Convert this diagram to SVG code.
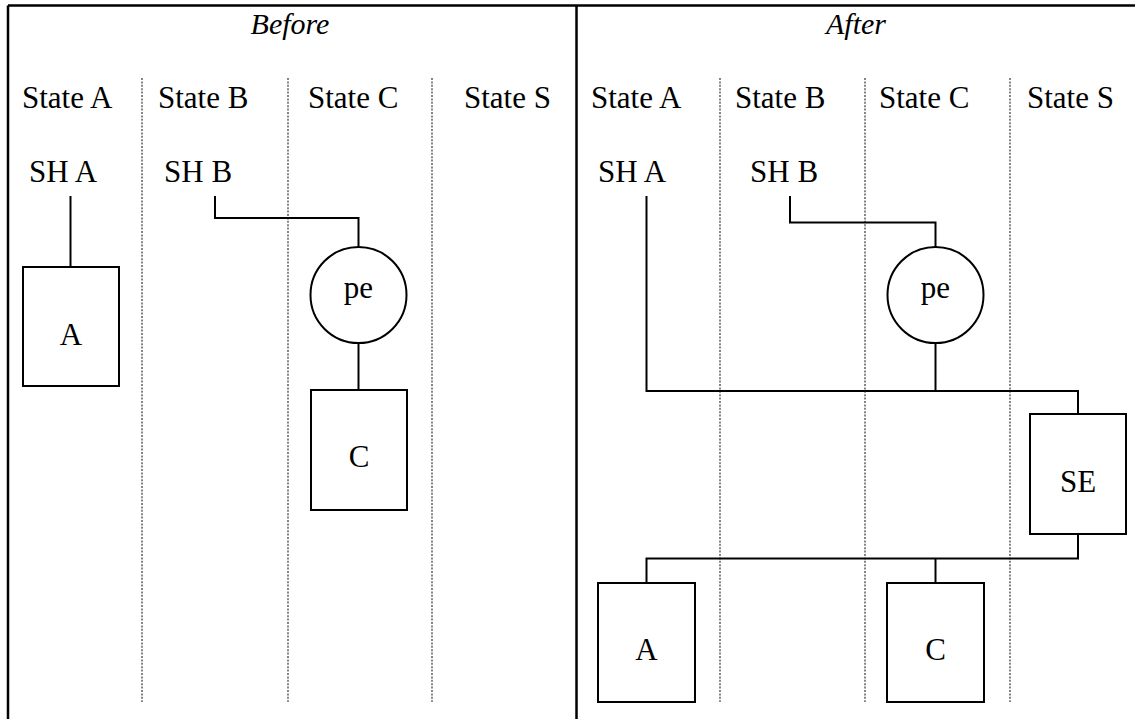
<svg xmlns="http://www.w3.org/2000/svg" width="1135" height="719" viewBox="0 0 1135 719">
<style>
text{font-family:"Liberation Serif","Times New Roman",serif;font-size:31px;fill:#000}
.ti{font-style:italic;font-size:30px}
.mid{text-anchor:middle}
.frame{stroke:#000;stroke-width:2.5;fill:none}
.dot{stroke:#444;stroke-width:1.3;stroke-dasharray:2 1.4;fill:none}
.box{stroke:#000;stroke-width:2;fill:#fff}
.con{stroke:#000;stroke-width:2;fill:none}
</style>
<rect width="1135" height="719" fill="#fff"/>
<g id="frame">
<line class="frame" x1="8" y1="5.5" x2="1135" y2="5.5"/>
<line class="frame" x1="8" y1="5.5" x2="8" y2="719"/>
<line class="frame" x1="576.5" y1="5.5" x2="576.5" y2="719"/>
</g>
<g id="lanes">
<line class="dot" x1="142" y1="78" x2="142" y2="702"/>
<line class="dot" x1="288" y1="78" x2="288" y2="702"/>
<line class="dot" x1="432" y1="78" x2="432" y2="702"/>
<line class="dot" x1="720" y1="78" x2="720" y2="702"/>
<line class="dot" x1="865" y1="78" x2="865" y2="702"/>
<line class="dot" x1="1010" y1="78" x2="1010" y2="702"/>
</g>
<g id="headers">
<text class="ti mid" x="290" y="34">Before</text>
<text class="ti mid" x="856" y="34">After</text>
<text x="22" y="108">State A</text>
<text x="158" y="108">State B</text>
<text x="308" y="108">State C</text>
<text x="464" y="108">State S</text>
<text x="591" y="108">State A</text>
<text x="735" y="108">State B</text>
<text x="879" y="108">State C</text>
<text x="1027" y="108">State S</text>
</g>
<g id="connectors">
<polyline class="con" points="70.5,196 70.5,267"/>
<polyline class="con" points="215,196 215,218 358.5,218 358.5,247"/>
<polyline class="con" points="358.5,343 358.5,390"/>
<polyline class="con" points="646.5,196 646.5,391 1078,391 1078,414"/>
<polyline class="con" points="790,196 790,222.5 935.5,222.5 935.5,247"/>
<polyline class="con" points="935.5,343 935.5,391"/>
<polyline class="con" points="1078,534 1078,558.5 646.5,558.5 646.5,583"/>
<polyline class="con" points="935.5,558.5 935.5,583"/>
</g>
<g id="before-sha"><text x="29" y="182">SH A</text></g>
<g id="before-shb"><text x="164" y="182">SH B</text></g>
<g id="before-a"><rect class="box" x="23" y="267" width="96" height="119"/><text class="mid" x="71" y="345">A</text></g>
<g id="before-pe"><circle class="box" cx="358.5" cy="295" r="48"/><text class="mid" x="358.5" y="298">pe</text></g>
<g id="before-c"><rect class="box" x="311" y="390" width="96" height="120"/><text class="mid" x="359" y="467">C</text></g>
<g id="after-sha"><text x="598" y="182">SH A</text></g>
<g id="after-shb"><text x="750" y="182">SH B</text></g>
<g id="after-pe"><circle class="box" cx="935.5" cy="295" r="48"/><text class="mid" x="935.5" y="298">pe</text></g>
<g id="after-se"><rect class="box" x="1030" y="414" width="96" height="120"/><text class="mid" x="1078" y="492">SE</text></g>
<g id="after-a"><rect class="box" x="598" y="583" width="97" height="119"/><text class="mid" x="646.5" y="660">A</text></g>
<g id="after-c"><rect class="box" x="887" y="583" width="97" height="119"/><text class="mid" x="935.5" y="660">C</text></g>
</svg>
